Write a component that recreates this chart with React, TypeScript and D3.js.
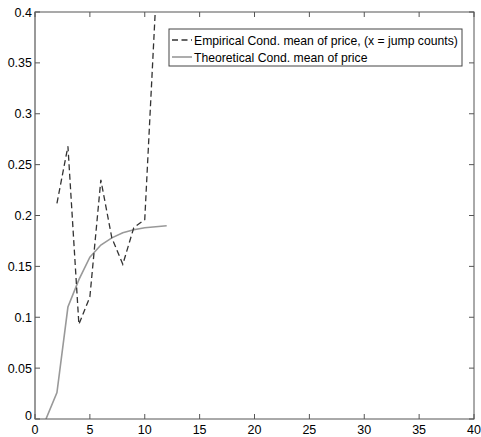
import React, { useEffect, useRef } from "react";
import * as d3 from "d3";

// Jump counts and conditional means of price
const jumpCounts = [1, 2, 3, 4, 5, 6, 7, 8, 9, 10, 11, 12];
const empiricalX = [2, 3, 4, 5, 6, 7, 8, 9, 10, 11];
const empiricalMean = [0.212, 0.268, 0.093, 0.12, 0.235, 0.178, 0.152, 0.188, 0.196, 0.41];
const theoreticalMean = [0, 0.026, 0.11, 0.137, 0.159, 0.171, 0.178, 0.183, 0.186, 0.188, 0.189, 0.19];

const xTicks = [0, 5, 10, 15, 20, 25, 30, 35, 40];
const yTicks = [0, 0.05, 0.1, 0.15, 0.2, 0.25, 0.3, 0.35, 0.4];
const yTickLabels = ["0", "0.05", "0.1", "0.15", "0.2", "0.25", "0.3", "0.35", "0.4"];
const legendLabels = [
  "Empirical Cond. mean of price, (x = jump counts)",
  "Theoretical Cond. mean of price",
];

const W = 481;
const H = 437;
const margin = { left: 35, right: 7, top: 12, bottom: 18 };

export default function App() {
  const ref = useRef<SVGSVGElement | null>(null);

  useEffect(() => {
    const svg = d3.select(ref.current);
    svg.selectAll("*").remove();

    const x = d3.scaleLinear().domain([0, 40]).range([margin.left, W - margin.right]);
    const y = d3.scaleLinear().domain([0, 0.4]).range([H - margin.bottom, margin.top]);
    const font = "'Liberation Sans', Arial, sans-serif";
    const axisColor = "#555";
    const tickFont = 12.5;

    svg.append("rect").attr("width", W).attr("height", H).attr("fill", "#fff");

    svg.append("defs").append("clipPath").attr("id", "plot-clip")
      .append("rect")
      .attr("x", x(0)).attr("y", y(0.4))
      .attr("width", x(40) - x(0)).attr("height", y(0) - y(0.4));

    const plot = svg.append("g").attr("clip-path", "url(#plot-clip)");

    const line = d3.line<[number, number]>().x((d) => x(d[0])).y((d) => y(d[1]));

    // Theoretical curve (solid gray)
    plot.append("path")
      .datum(jumpCounts.map((c, i) => [c, theoreticalMean[i]] as [number, number]))
      .attr("d", line)
      .attr("fill", "none")
      .attr("stroke", "#999")
      .attr("stroke-width", 1.6);

    // Empirical curve (dashed dark)
    plot.append("path")
      .datum(empiricalX.map((c, i) => [c, empiricalMean[i]] as [number, number]))
      .attr("d", line)
      .attr("fill", "none")
      .attr("stroke", "#333")
      .attr("stroke-width", 1.3)
      .attr("stroke-dasharray", "6,3.5");

    // Box
    const axes = svg.append("g");
    axes.append("rect")
      .attr("x", x(0)).attr("y", y(0.4))
      .attr("width", x(40) - x(0)).attr("height", y(0) - y(0.4))
      .attr("fill", "none").attr("stroke", axisColor).attr("stroke-width", 1);
    axes.append("line")
      .attr("x1", x(0)).attr("x2", x(0)).attr("y1", y(0.4)).attr("y2", y(0))
      .attr("stroke", "#999").attr("stroke-width", 2);

    const tl = 5;
    xTicks.forEach((t) => {
      axes.append("line").attr("x1", x(t)).attr("x2", x(t)).attr("y1", y(0)).attr("y2", y(0) - tl)
        .attr("stroke", axisColor);
      axes.append("line").attr("x1", x(t)).attr("x2", x(t)).attr("y1", y(0.4)).attr("y2", y(0.4) + tl)
        .attr("stroke", axisColor);
      axes.append("text").attr("x", x(t)).attr("y", y(0) + 15)
        .attr("text-anchor", "middle").attr("font-family", font).attr("font-size", tickFont)
        .attr("fill", "#000").text(String(t));
    });
    yTicks.forEach((t, i) => {
      axes.append("line").attr("x1", x(0)).attr("x2", x(0) + tl).attr("y1", y(t)).attr("y2", y(t))
        .attr("stroke", axisColor);
      axes.append("line").attr("x1", x(40)).attr("x2", x(40) - tl).attr("y1", y(t)).attr("y2", y(t))
        .attr("stroke", axisColor);
      axes.append("text").attr("x", x(0) - 3).attr("y", y(t) + (t === 0 ? 1 : 4.5))
        .attr("text-anchor", "end").attr("font-family", font).attr("font-size", tickFont)
        .attr("fill", "#000").text(yTickLabels[i]);
    });

    // Legend
    const lg = svg.append("g");
    const lx = 169, ly = 29, lw = 293, lh = 37;
    lg.append("rect").attr("x", lx).attr("y", ly).attr("width", lw).attr("height", lh)
      .attr("fill", "#fff").attr("stroke", "#444").attr("stroke-width", 1);
    const rows = [
      { dash: "6,3.5", color: "#333", w: 1.3 },
      { dash: null, color: "#999", w: 1.6 },
    ];
    rows.forEach((r, i) => {
      const cy = ly + 11 + i * 17;
      const l = lg.append("line").attr("x1", lx + 3).attr("x2", lx + 23).attr("y1", cy).attr("y2", cy)
        .attr("stroke", r.color).attr("stroke-width", r.w);
      if (r.dash) l.attr("stroke-dasharray", r.dash);
      lg.append("text").attr("x", lx + 25).attr("y", cy + 4.5)
        .attr("font-family", font).attr("font-size", 12.2).attr("fill", "#000")
        .text(legendLabels[i]);
    });
  }, []);

  return (
    <svg
      ref={ref}
      width={W}
      height={H}
      style={{ position: "absolute", left: 0, top: 0, display: "block" }}
    />
  );
}
